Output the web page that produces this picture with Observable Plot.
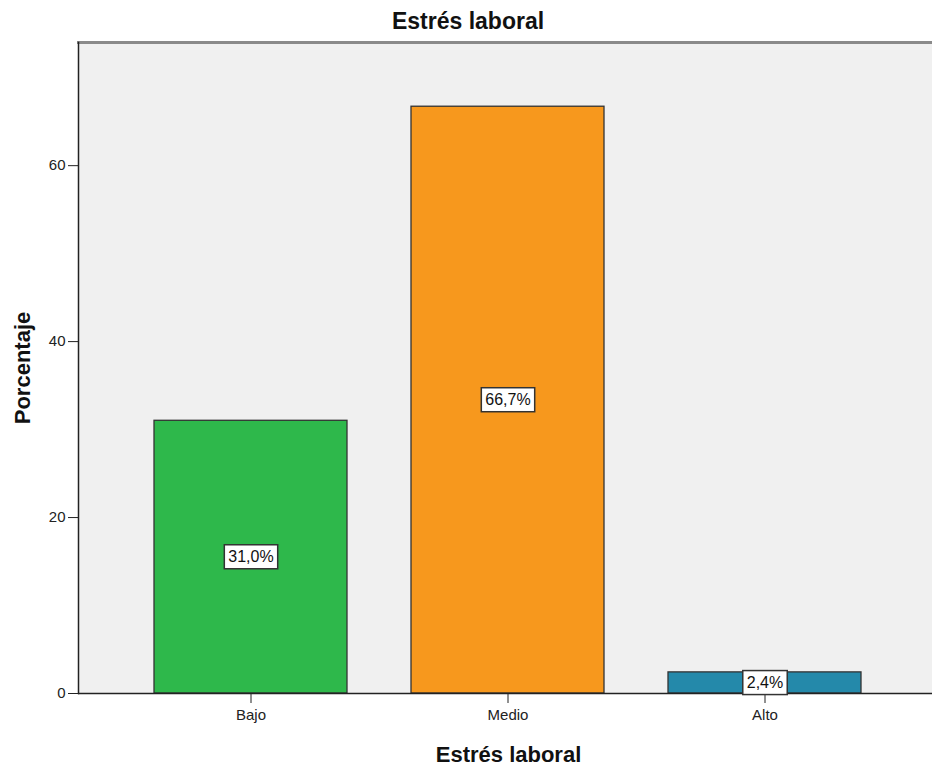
<!DOCTYPE html>
<html>
<head>
<meta charset="utf-8">
<script src="https://cdn.jsdelivr.net/npm/d3@7"></script>
<script src="https://cdn.jsdelivr.net/npm/@observablehq/plot@0.6"></script>
<style>
  html, body { margin: 0; padding: 0; background: white; }
</style>
</head>
<body>
<div id="chart"></div>
<script>
const categories = ["Bajo", "Medio", "Alto"];
const values = [31.0, 66.7, 2.4];
const valueLabels = ["31,0%", "66,7%", "2,4%"];
const barColors = ["#2eb84b", "#f7981d", "#2489aa"];
const yTicks = [0, 20, 40, 60];
const chartTitle = "Estrés laboral";
const xTitle = "Estrés laboral";
const yTitle = "Porcentaje";

const data = categories.map((c, i) => ({cat: c, value: values[i], label: valueLabels[i]}));

const font = "Arial, 'Liberation Sans', sans-serif";

const plot = Plot.plot({
  width: 932,
  height: 769,
  marginLeft: 78,
  marginRight: 0,
  marginTop: 42,
  marginBottom: 76,
  style: {fontFamily: font, fontSize: "15px", color: "#222", background: "white"},
  x: {domain: categories, range: [78, 937.3], paddingInner: 0.25, paddingOuter: 0.291, label: null},
  y: {domain: [0, 74], label: null},
  color: {domain: categories, range: barColors},
  marks: [
    Plot.frame({fill: "#f0f0f0", stroke: "none"}),
    Plot.barY(data, {x: "cat", y: "value", fill: "cat", stroke: "#333", strokeWidth: 1.3}),
    Plot.frame({anchor: "top", stroke: "#8a8a8a", strokeWidth: 3}),
    Plot.frame({anchor: "left", stroke: "#222", strokeWidth: 1.5}),
    Plot.ruleY([0], {stroke: "#222", strokeWidth: 1.5}),
    Plot.axisY({ticks: yTicks, tickSize: 10, tickPadding: 3, label: null, stroke: "#222", fontSize: 15}),
    Plot.axisX({tickSize: 10, tickPadding: 6, label: null, stroke: "#222", fontSize: 15}),
    Plot.text(data, {x: "cat", y: d => d.value / 2, text: "label", fontSize: 16, fill: "#111", ariaDescription: "valuelabels"}),
    Plot.text([chartTitle], {frameAnchor: "top", lineAnchor: "middle", dx: -37.5, dy: -21, fontSize: 23, fontWeight: "bold", fill: "#111"}),
    Plot.text([xTitle], {frameAnchor: "bottom", lineAnchor: "middle", dx: 3, dy: 61, fontSize: 22, fontWeight: "bold", fill: "#111"}),
    Plot.text([yTitle], {frameAnchor: "left", textAnchor: "middle", lineAnchor: "middle", rotate: -90, dx: -56, fontSize: 22, fontWeight: "bold", fill: "#111"})
  ]
});

document.getElementById("chart").appendChild(plot);

// white boxes behind the value labels
const ns = "http://www.w3.org/2000/svg";
plot.querySelectorAll('g[aria-description="valuelabels"] text').forEach(t => {
  const bb = t.getBBox();
  const r = document.createElementNS(ns, "rect");
  r.setAttribute("x", bb.x - 4);
  r.setAttribute("y", bb.y - 3.5);
  r.setAttribute("width", bb.width + 8);
  r.setAttribute("height", bb.height + 7);
  r.setAttribute("fill", "white");
  r.setAttribute("stroke", "#333");
  r.setAttribute("stroke-width", 1.5);
  const tr = t.getAttribute("transform");
  if (tr) r.setAttribute("transform", tr);
  t.parentNode.insertBefore(r, t);
});
</script>
</body>
</html>
